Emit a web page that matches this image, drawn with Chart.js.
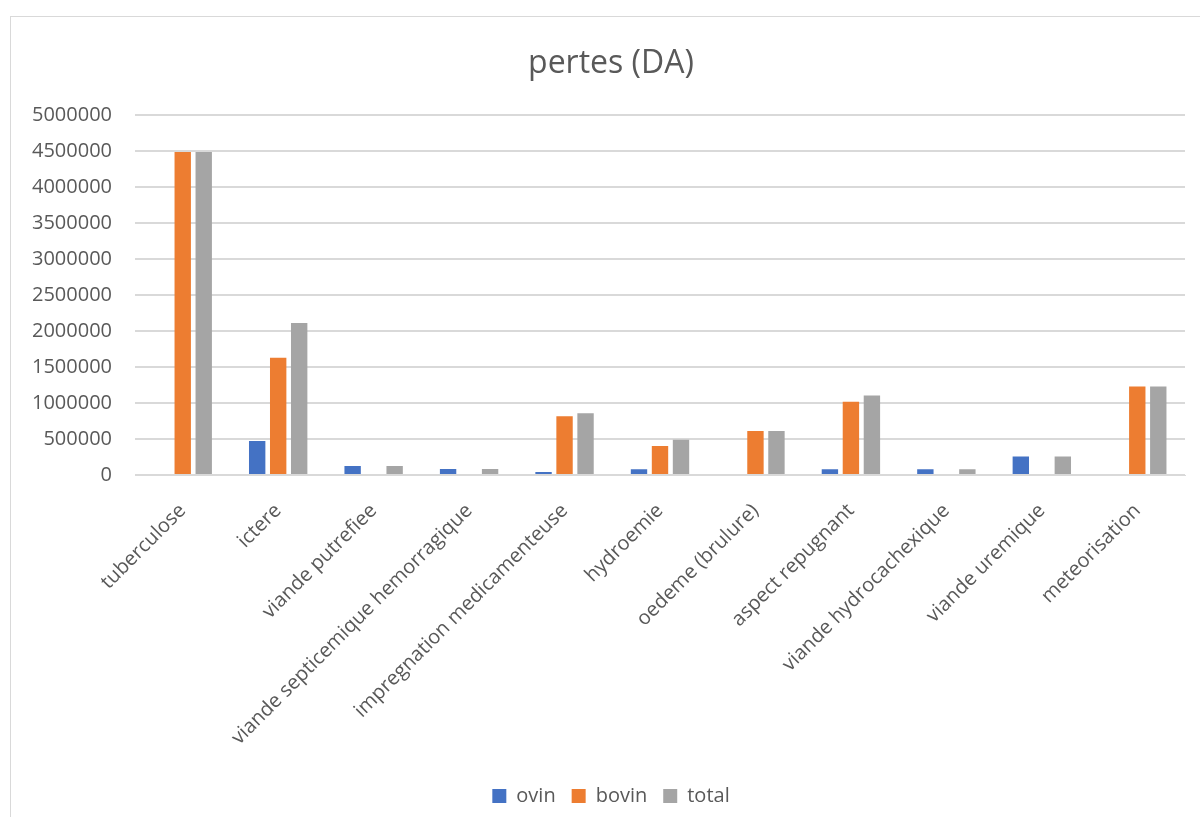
<!DOCTYPE html>
<html>
<head>
<meta charset="utf-8">
<script src="https://cdn.jsdelivr.net/npm/chart.js@4/dist/chart.umd.min.js"></script>
<style>
	body { margin: 0; background: #fff; overflow: hidden; }
	#box { position: absolute; left: 10px; top: 16px; width: 1200px; height: 800px; border: 1px solid #d9d9d9; border-right: none; border-bottom: none; }
</style>
</head>
<body>
<div id="box"><canvas id="chart"></canvas></div>
<script>
const categories = [
	"tuberculose", "ictere", "viande putrefiee", "viande septicemique hemorragique",
	"impregnation medicamenteuse", "hydroemie", "oedeme (brulure)", "aspect repugnant",
	"viande hydrocachexique", "viande uremique", "meteorisation"
]
const ovin = [null, 474000, 125000, 84000, 42000, 79000, null, 79000, 79000, 257000, null]
const bovin = [4490000, 1630000, null, null, 817000, 402000, 612000, 1019000, null, null, 1229000]
const total = [4490000, 2112000, 125000, 84000, 859000, 490000, 612000, 1107000, 79000, 257000, 1229000]

const yMax = 5000000
const yStep = 500000

const textColor = "#595959"
const gridColor = "#d9d9d9"

Chart.defaults.font.family = "'Open Sans', sans-serif"
Chart.defaults.color = textColor

function series(label, data, color) {
	return {
		label: label,
		data: data,
		backgroundColor: color,
		borderColor: color,
		borderWidth: 0,
		categoryPercentage: 0.66,
		barPercentage: 0.78
	}
}

new Chart(document.getElementById("chart"), {
	type: "bar",
	data: {
		labels: categories,
		datasets: [
			series("ovin", ovin, "#4472C4"),
			series("bovin", bovin, "#ED7D31"),
			series("total", total, "#A5A5A5")
		]
	},
	options: {
		responsive: true,
		maintainAspectRatio: false,
		animation: false,
		layout: { padding: { left: 0, right: 0, top: 0, bottom: 1 } },
		plugins: {
			title: {
				display: true,
				text: "pertes (DA)",
				color: textColor,
				font: { size: 32, weight: "normal" },
				padding: { top: 28, bottom: 32 }
			},
			legend: {
				position: "bottom",
				labels: {
					boxWidth: 14,
					boxHeight: 14,
					padding: 16,
					color: textColor,
					font: { size: 20 }
				}
			},
			tooltip: { enabled: false }
		},
		scales: {
			x: {
				grid: { display: false },
				border: { color: gridColor },
				ticks: {
					autoSkip: false,
					minRotation: 45,
					maxRotation: 45,
					padding: 16,
					color: textColor,
					font: { size: 20 }
				},
				afterFit: (scale) => { scale.height = 295 }
			},
			y: {
				min: 0,
				max: yMax,
				border: { display: false },
				grid: { color: gridColor, lineWidth: 2, drawTicks: false },
				ticks: {
					stepSize: yStep,
					padding: 23,
					color: textColor,
					font: { size: 20 },
					callback: (v) => v.toString()
				},
				afterFit: (scale) => { scale.width = 124 }
			},
			// empty right axis, only to leave room on the right
			y2: {
				position: "right",
				border: { display: false },
				grid: { display: false },
				ticks: { display: false },
				afterFit: (scale) => { scale.width = 26 }
			}
		}
	}
})
</script>
</body>
</html>
